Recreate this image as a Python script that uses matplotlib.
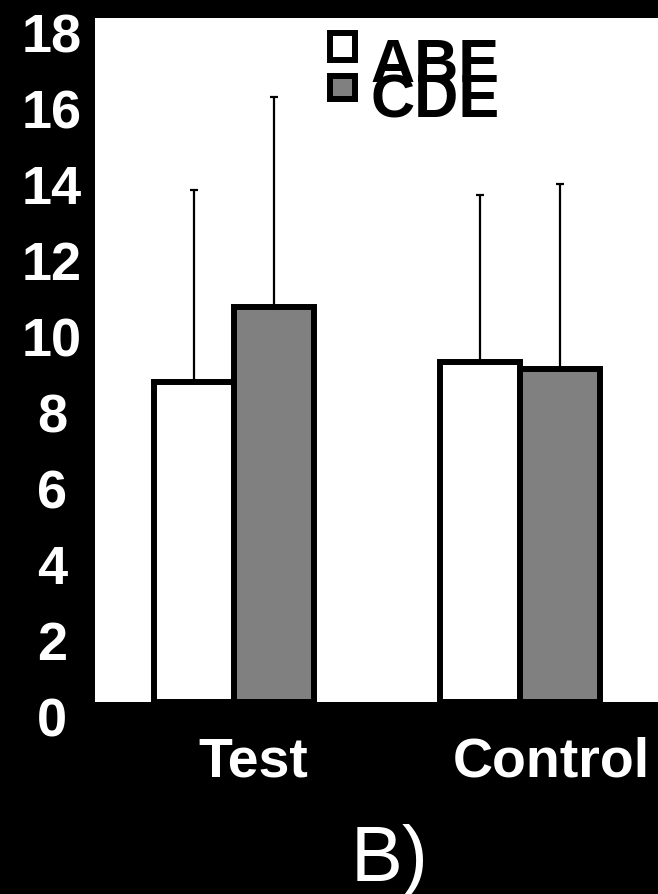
import matplotlib
matplotlib.use("Agg")
import matplotlib.pyplot as plt
import matplotlib.transforms as mtransforms
from matplotlib.patches import Rectangle
import numpy as np

plt.rcParams['font.family'] = ['Liberation Sans', 'DejaVu Sans']

categories = ["Test", "Control"]
series_names = ["ABE", "CDE"]
abe_values = [8.42, 8.95]
cde_values = [10.39, 8.76]
abe_err = [5.05, 4.39]
cde_err = [5.53, 4.87]
yticks = [0, 2, 4, 6, 8, 10, 12, 14, 16, 18]
panel_label = "B)"

W, H = 658, 894
fig = plt.figure(figsize=(W / 100, H / 100), dpi=100, facecolor='black')
ax = fig.add_axes([95 / W, (H - 702) / H, (W - 95) / W, (702 - 18) / H])
ax.set_facecolor('white')
for s in ax.spines.values():
    s.set_visible(False)

x = np.arange(len(categories))
w = 0.28
ax.bar(x - w / 2, abe_values, w, color='white', edgecolor='black', linewidth=4.3, zorder=2)
ax.bar(x + w / 2, cde_values, w, color='#808080', edgecolor='black', linewidth=4.3, zorder=2)
ax.errorbar(x - w / 2, abe_values, yerr=[np.zeros(len(x)), abe_err], fmt='none',
            ecolor='black', elinewidth=1.6, capsize=3, capthick=1.6, zorder=1)
ax.errorbar(x + w / 2, cde_values, yerr=[np.zeros(len(x)), cde_err], fmt='none',
            ecolor='black', elinewidth=1.6, capsize=3, capthick=1.6, zorder=1)

ax.set_ylim(0, 18)
ax.set_xlim(-0.486, 1.483)
ax.set_yticks(yticks)
ax.set_yticklabels([str(t) for t in yticks])
ax.tick_params(axis='y', length=0, pad=31, labelsize=39, labelcolor='white')
for lbl in ax.get_yticklabels():
    lbl.set_fontweight('bold')
    lbl.set_horizontalalignment('center')
    lbl.set_transform(lbl.get_transform() + mtransforms.ScaledTranslation(0, -15 / 100, fig.dpi_scale_trans))

ax.set_xticks(x)
ax.set_xticklabels(categories)
ax.tick_params(axis='x', length=0, pad=25, labelsize=40, labelcolor='white')
offs = [19, 31]
for lbl, o in zip(ax.get_xticklabels(), offs):
    lbl.set_fontweight('bold')
    lbl.set_transform(lbl.get_transform() + mtransforms.ScaledTranslation(o / 100, 0, fig.dpi_scale_trans))

# legend
fig.patches.append(Rectangle((330 / W, 1 - 60 / H), 25 / W, 27 / H, transform=fig.transFigure,
                             facecolor='white', edgecolor='black', linewidth=4.3, zorder=5))
fig.patches.append(Rectangle((330 / W, 1 - 99 / H), 25 / W, 23 / H, transform=fig.transFigure,
                             facecolor='#808080', edgecolor='black', linewidth=4.3, zorder=5))
fig.text(370 / W, 1 - 82 / H, series_names[0], fontsize=44, fontweight='bold', color='black',
         va='baseline', ha='left', zorder=6)
fig.text(370 / W, 1 - 118 / H, series_names[1], fontsize=44, fontweight='bold', color='black',
         va='baseline', ha='left', zorder=6)

fig.text(390 / W, 1 - 881 / H, panel_label, fontsize=56, color='white', va='baseline', ha='center')

fig.savefig("out.png", dpi=100, facecolor='black')
